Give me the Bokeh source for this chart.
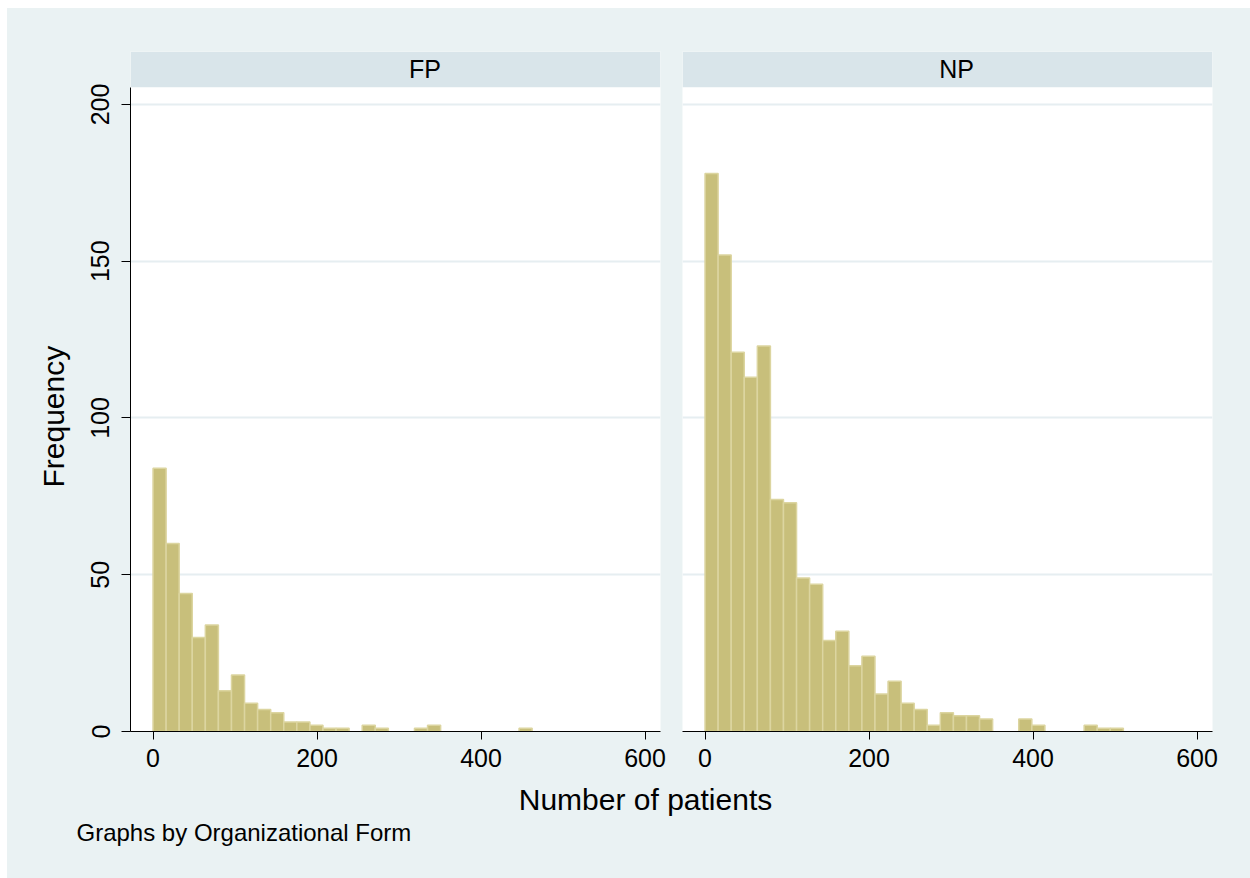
import math

from bokeh.plotting import figure
from bokeh.models import Range1d, FixedTicker, ColumnDataSource, Spacer, Label, BoxAnnotation
from bokeh.layouts import column, row
from bokeh.embed import file_html
from bokeh.resources import INLINE
from bokeh.core.properties import value

# Histogram bin counts of number of patients, by organizational form
bin_width = 15.94
fp_counts = [84, 60, 44, 30, 34, 13, 18, 9, 7, 6, 3, 3, 2, 1, 1, 0, 2, 1, 0, 0,
             1, 2, 0, 0, 0, 0, 0, 0, 1]
np_counts = [178, 152, 121, 113, 123, 74, 73, 49, 47, 29, 32, 21, 24, 12, 16, 9,
             7, 2, 6, 5, 5, 4, 0, 0, 4, 2, 0, 0, 0, 2, 1, 1]
panel_names = ["FP", "NP"]
x_ticks = [0, 200, 400, 600]
y_ticks = [0, 50, 100, 150, 200]
x_title = "Number of patients"
y_title = "Frequency"
note_text = "Graphs by Organizational Form"

# Styling
BG = "#EAF2F3"
STRIP = "#D9E5EA"
BAR_FILL = "#C8BF7B"
BAR_LINE = "#DCD5A0"
GRID = "#E6EEF1"
FONT = "Liberation Sans"

X_RANGE = (-27.5, 618.8)
Y_RANGE = (0, 216.9)
STRIP_BOTTOM = 205.5
BORDER_TOP = 43
FRAME_H = 680
BORDER_BOTTOM = 48
PANEL_H = BORDER_TOP + FRAME_H + BORDER_BOTTOM
TOP_MARGIN = 8
LEFT_MARGIN = 7


def bins_source(counts):
    left, right, top = [], [], []
    for i, c in enumerate(counts):
        if c > 0:
            left.append(i * bin_width)
            right.append((i + 1) * bin_width)
            top.append(c)
    return ColumnDataSource(dict(left=left, right=right, top=top, bottom=[0] * len(top)))


def panel(name, counts, width, border_left, border_right, show_y, label_shift):
    p = figure(width=width, height=PANEL_H,
               x_range=Range1d(*X_RANGE), y_range=Range1d(*Y_RANGE),
               output_backend="svg", toolbar_location=None,
               min_border_left=border_left, min_border_right=border_right,
               min_border_top=BORDER_TOP, min_border_bottom=BORDER_BOTTOM,
               background_fill_color="white", border_fill_color=BG,
               outline_line_color=None)

    p.quad(left="left", right="right", top="top", bottom="bottom",
           source=bins_source(counts), fill_color=BAR_FILL,
           line_color=BAR_LINE, line_width=1.5)

    # strip header with the panel name
    p.add_layout(BoxAnnotation(bottom=STRIP_BOTTOM, fill_color=STRIP, fill_alpha=1,
                               line_color=None))
    p.add_layout(Label(x=(X_RANGE[0] + X_RANGE[1]) / 2 + label_shift,
                       y=(STRIP_BOTTOM + Y_RANGE[1]) / 2, text=name,
                       text_align="center", text_baseline="middle",
                       text_font=FONT, text_font_size="25px", text_color="black"))

    p.xgrid.visible = False
    p.ygrid.ticker = FixedTicker(ticks=y_ticks[1:])
    p.ygrid.grid_line_color = GRID
    p.ygrid.grid_line_width = 2

    xa = p.xaxis[0]
    xa.ticker = FixedTicker(ticks=x_ticks)
    xa.axis_line_color = "black"
    xa.major_tick_line_color = "black"
    xa.major_tick_out = 8
    xa.major_tick_in = 0
    xa.minor_tick_line_color = None
    xa.major_label_standoff = 9
    xa.major_label_text_font = FONT
    xa.major_label_text_font_size = "25px"
    xa.major_label_text_color = "black"

    ya = p.yaxis[0]
    if show_y:
        ya.ticker = FixedTicker(ticks=y_ticks)
        ya.bounds = (0, STRIP_BOTTOM)
        ya.axis_line_color = "black"
        ya.major_tick_line_color = "black"
        ya.major_tick_out = 9
        ya.major_tick_in = 0
        ya.minor_tick_line_color = None
        ya.major_label_orientation = "vertical"
        ya.major_label_standoff = 12
        ya.major_label_text_font = FONT
        ya.major_label_text_font_size = "25px"
        ya.major_label_text_color = "black"
    else:
        ya.visible = False
    return p


def text_band(width, height, x0, y0):
    # plain band whose coordinates follow the page pixels
    b = figure(width=width, height=height,
               x_range=Range1d(x0, x0 + width), y_range=Range1d(y0 + height, y0),
               output_backend="svg", toolbar_location=None,
               x_axis_type=None, y_axis_type=None, min_border=0,
               background_fill_color=BG, border_fill_color=BG, outline_line_color=None)
    b.xgrid.visible = False
    b.ygrid.visible = False
    return b


# y title on the left
left = text_band(73, PANEL_H, LEFT_MARGIN, TOP_MARGIN)
left.text(x=[53], y=[422], text=[y_title], angle=math.pi / 2, text_align="center",
          text_baseline="alphabetic", text_font=value(FONT),
          text_font_size="30px", text_color="black")

fp = panel(panel_names[0], fp_counts, 590, 50, 10, True, 36)
np_ = panel(panel_names[1], np_counts, 580, 12, 38, False, 11)

# bottom band with the shared x title and the by-note
band_top = TOP_MARGIN + PANEL_H
bottom = text_band(1250 - LEFT_MARGIN, 878 - band_top, LEFT_MARGIN, band_top)
bottom.text(x=[645], y=[799], text=[x_title], text_align="center",
            text_baseline="alphabetic", text_font=value(FONT),
            text_font_size="30px", text_color="black")
bottom.text(x=[76], y=[832], text=[note_text], text_align="left",
            text_baseline="alphabetic", text_font=value(FONT),
            text_font_size="24px", text_color="black")

panels = row(left, fp, np_, styles={"background-color": BG})
inner = column(panels, bottom, styles={"background-color": BG})
layout = column(Spacer(width=1250, height=TOP_MARGIN),
                row(Spacer(width=LEFT_MARGIN, height=878 - TOP_MARGIN), inner))

open("out.html", "w").write(file_html(layout, INLINE))
